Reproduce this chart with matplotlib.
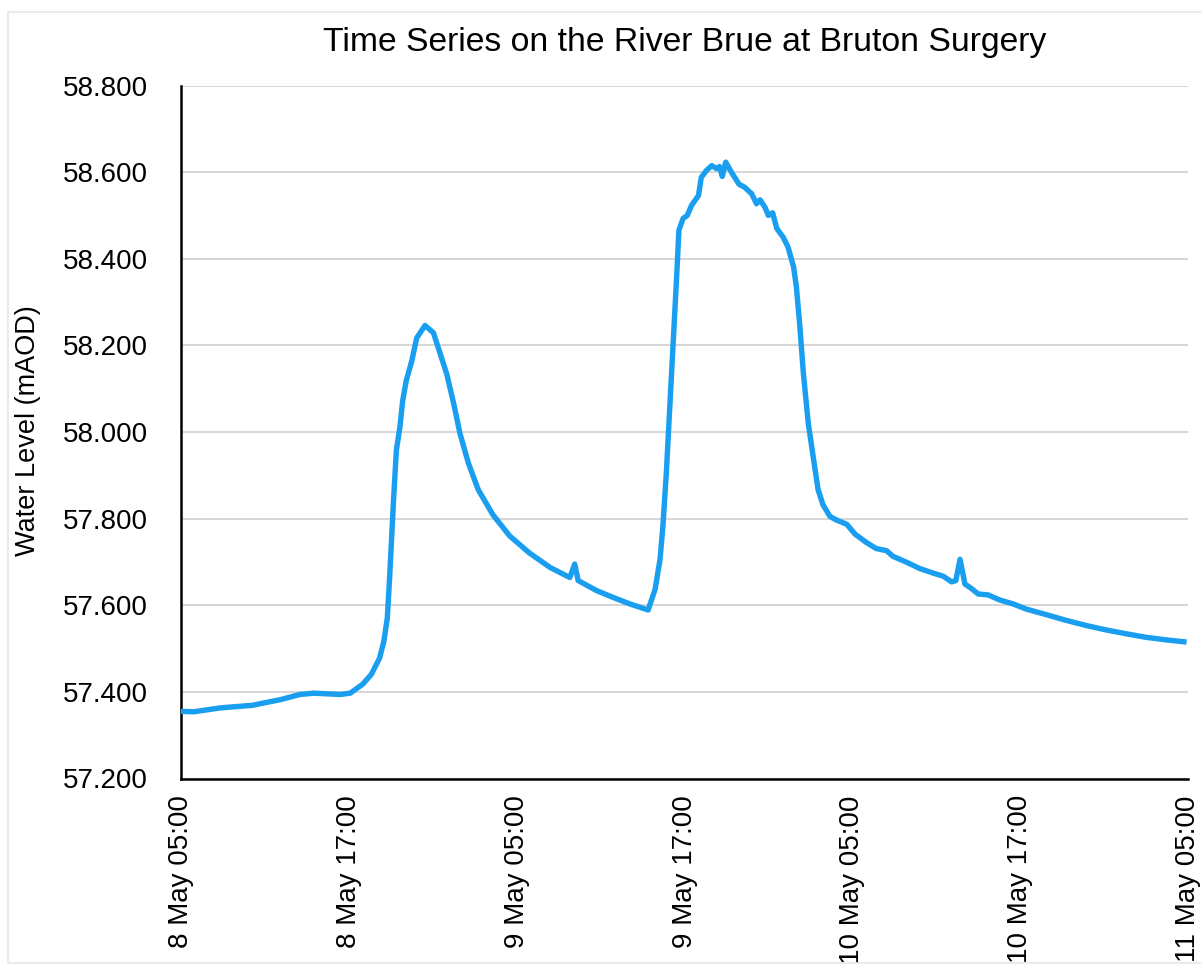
import matplotlib
matplotlib.use("Agg")
import matplotlib.pyplot as plt
from matplotlib.patches import Rectangle

# hours since 8 May 05:00
hours = [0, 0.9, 2.8, 5.1, 7.1, 8.5, 9.5, 11.4, 12.1, 13.0, 13.6, 14.2, 14.5, 14.75,
         14.9, 15.2, 15.4, 15.65, 15.85, 16.1, 16.5, 16.85, 17.45, 18.05, 18.4, 19.0,
         19.5, 19.95, 20.55, 21.25, 22.3, 23.5, 24.9, 26.4, 27.8, 28.15, 28.4, 29.7,
         30.9, 32.1, 33.4, 33.9, 34.25, 34.45, 34.7, 34.95, 35.2, 35.45, 35.6, 35.9,
         36.2, 36.5, 37.0, 37.2, 37.6, 37.95, 38.3, 38.5, 38.7, 38.95, 39.35, 39.9,
         40.3, 40.8, 41.15, 41.4, 41.75, 42.0, 42.3, 42.6, 43.05, 43.4, 43.8, 44.0,
         44.25, 44.5, 44.85, 45.2, 45.55, 45.9, 46.4, 46.85, 47.6, 48.2, 49.0, 49.7,
         50.45, 50.9, 51.9, 52.8, 53.8, 54.5, 55.1, 55.4, 55.7, 56.05, 56.5, 57.0,
         57.7, 58.55, 59.5, 60.45, 61.9, 63.3, 64.75, 66.15, 67.6, 69.0, 70.45, 71.9]
level = [57.355, 57.354, 57.363, 57.369, 57.382, 57.394, 57.397, 57.394, 57.397, 57.418,
         57.440, 57.478, 57.516, 57.570, 57.654, 57.845, 57.958, 58.011, 58.072, 58.118,
         58.164, 58.217, 58.246, 58.229, 58.194, 58.134, 58.065, 57.996, 57.928, 57.867,
         57.809, 57.760, 57.721, 57.687, 57.664, 57.695, 57.657, 57.634, 57.618, 57.603,
         57.589, 57.637, 57.706, 57.780, 57.905, 58.059, 58.212, 58.366, 58.466, 58.493,
         58.500, 58.523, 58.546, 58.588, 58.605, 58.615, 58.608, 58.613, 58.590, 58.623,
         58.600, 58.572, 58.565, 58.550, 58.527, 58.536, 58.519, 58.500, 58.506, 58.470,
         58.450, 58.427, 58.381, 58.335, 58.243, 58.135, 58.020, 57.943, 57.867, 57.832,
         57.805, 57.797, 57.787, 57.764, 57.745, 57.731, 57.726, 57.713, 57.699, 57.685,
         57.674, 57.667, 57.654, 57.657, 57.706, 57.649, 57.639, 57.626, 57.624, 57.612,
         57.603, 57.591, 57.578, 57.565, 57.553, 57.543, 57.534, 57.526, 57.520, 57.515]

x_ticks = [0, 12, 24, 36, 48, 60, 72]
x_labels = ["8 May 05:00", "8 May 17:00", "9 May 05:00", "9 May 17:00",
            "10 May 05:00", "10 May 17:00", "11 May 05:00"]
y_ticks = [57.2, 57.4, 57.6, 57.8, 58.0, 58.2, 58.4, 58.6, 58.8]
y_labels = ["57.200", "57.400", "57.600", "57.800", "58.000", "58.200", "58.400",
            "58.600", "58.800"]

plt.rcParams['font.family'] = ['Liberation Sans', 'DejaVu Sans']

fig = plt.figure(figsize=(12.01, 9.67), dpi=100)
# faint frame
fig.patches.append(Rectangle((8/1201, 4/967), 1.0, 951/967, transform=fig.transFigure,
                             fill=False, edgecolor='#e6e6e6', linewidth=1.2, zorder=0))
ax = fig.add_axes([181/1201, 1-778.5/967, (1188-181)/1201, (778.5-85.5)/967])

ax.plot(hours, level, color='#1a9ff0', linewidth=3.9, solid_joinstyle='round',
        solid_capstyle='butt', clip_on=False, zorder=3)

ax.set_xlim(0, 72)
ax.set_ylim(57.2, 58.8)
ax.set_xticks(x_ticks)
ax.set_xticklabels(x_labels, rotation=90, fontsize=20, va='top', ha='center')
ax.set_yticks(y_ticks)
ax.set_yticklabels(y_labels, fontsize=20)
ax.tick_params(axis='both', length=0)
ax.tick_params(axis='y', pad=24)
ax.tick_params(axis='x', pad=12)

ax.grid(axis='y', color='#cccccc', linewidth=1.1)
ax.set_axisbelow(True)
for s in ['top', 'right']:
    ax.spines[s].set_visible(False)
for s in ['left', 'bottom']:
    ax.spines[s].set_linewidth(1.8)
    ax.spines[s].set_color('black')

ax.set_title("Time Series on the River Brue at Bruton Surgery", fontsize=24.3, pad=25)
fig.text(28/1201, 1-431/967, "Water Level (mAOD)", rotation=90, ha='center',
         va='center', fontsize=19.5)

fig.savefig("out.png", dpi=100, facecolor='white')
